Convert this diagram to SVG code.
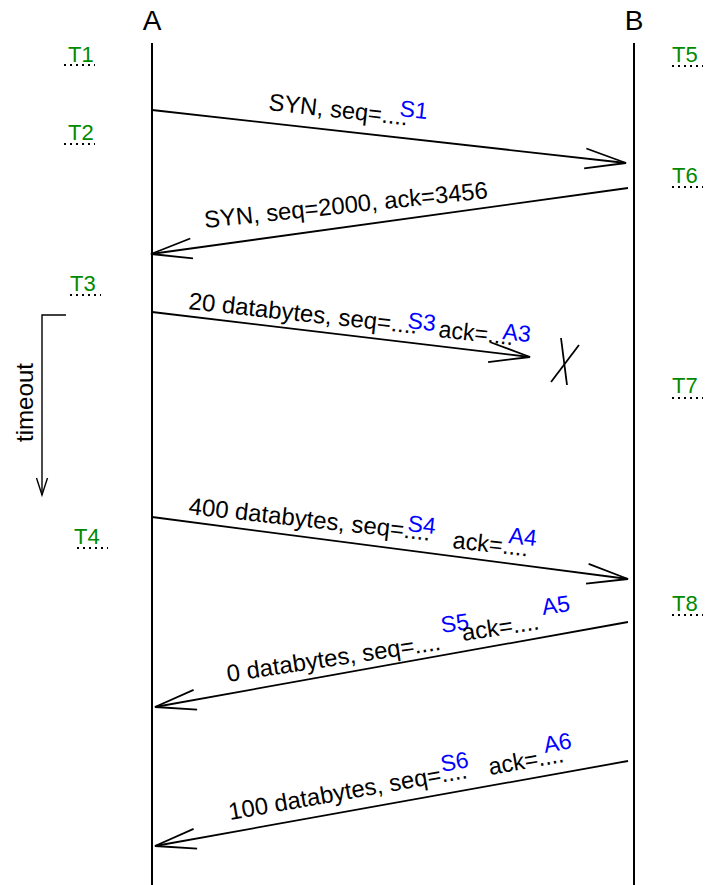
<svg xmlns="http://www.w3.org/2000/svg" width="705" height="885" viewBox="0 0 705 885">
<style>
.life{stroke:#000;stroke-width:2;fill:none}
.msg{stroke:#000;stroke-width:1.8;fill:none}
.lbl{font-family:"Liberation Sans",Arial,sans-serif;font-size:24px;fill:#000}
.var{font-family:"Liberation Sans",Arial,sans-serif;font-size:23px;fill:#0000ff}
.tl{font-family:"Liberation Sans",Arial,sans-serif;font-size:22px;fill:#008a00}
.dots{stroke:#000;stroke-width:2;stroke-dasharray:2 4;fill:none}
.ent{font-family:"Liberation Sans",Arial,sans-serif;font-size:28px;fill:#000;text-anchor:middle}
</style>
<defs>
<marker id="open" viewBox="-45 -15 50 30" markerWidth="50" markerHeight="30" refX="0" refY="0" orient="auto" markerUnits="userSpaceOnUse">
<path d="M-41,-10 L0,0 L-41,10" fill="none" stroke="#000" stroke-width="1.8"/>
</marker>
<marker id="small" viewBox="-20 -8 24 16" markerWidth="24" markerHeight="16" refX="0" refY="0" orient="auto" markerUnits="userSpaceOnUse">
<path d="M-17,-5.5 L0,0 L-17,5.5" fill="none" stroke="#000" stroke-width="1.4"/>
</marker>
</defs>
<rect width="705" height="885" fill="#fff"/>
<g id="A"><text class="ent" x="152" y="30">A</text><line class="life" x1="152" y1="43" x2="152" y2="885"/></g>
<g id="B"><text class="ent" x="634" y="30">B</text><line class="life" x1="634" y1="43" x2="634" y2="885"/></g>
<g id="T1"><text class="tl" x="68" y="62">T1</text><line class="dots" x1="64" y1="65" x2="95" y2="65"/></g>
<g id="T2"><text class="tl" x="68" y="140">T2</text><line class="dots" x1="64" y1="144" x2="95" y2="144"/></g>
<g id="T3"><text class="tl" x="70" y="291">T3</text><line class="dots" x1="70" y1="295" x2="101" y2="295"/></g>
<g id="T4"><text class="tl" x="74" y="544">T4</text><line class="dots" x1="77" y1="548" x2="108" y2="548"/></g>
<g id="T5"><text class="tl" x="672" y="62">T5</text><line class="dots" x1="672" y1="66" x2="703" y2="66"/></g>
<g id="T6"><text class="tl" x="672" y="183">T6</text><line class="dots" x1="672" y1="187" x2="703" y2="187"/></g>
<g id="T7"><text class="tl" x="672" y="393">T7</text><line class="dots" x1="672" y1="398" x2="703" y2="398"/></g>
<g id="T8"><text class="tl" x="672" y="611">T8</text><line class="dots" x1="672" y1="615" x2="703" y2="615"/></g>
<g id="timeout">
<polyline class="msg" points="66,315 42,315 42,495" marker-end="url(#small)" style="stroke-width:1.4"/>
<text class="lbl" x="33" y="442" transform="rotate(-90 33 442)" textLength="79" lengthAdjust="spacingAndGlyphs">timeout</text>
</g>
<g id="connectors">
<line class="msg" x1="152" y1="110" x2="626" y2="163" marker-end="url(#open)"/>
<line class="msg" x1="628" y1="188" x2="151" y2="254" marker-end="url(#open)"/>
<line class="msg" x1="152" y1="312" x2="530" y2="357" marker-end="url(#open)"/>
<line class="msg" x1="152" y1="517" x2="628" y2="579" marker-end="url(#open)"/>
<line class="msg" x1="628" y1="622" x2="155" y2="707" marker-end="url(#open)"/>
<line class="msg" x1="628" y1="761" x2="155" y2="846" marker-end="url(#open)"/>
<line class="msg" x1="561" y1="338" x2="567" y2="385"/>
<line class="msg" x1="551" y1="382" x2="579" y2="345"/>
</g>
<g id="label1">
<text class="lbl" x="268" y="110" transform="rotate(6.3 268 110)" textLength="140" lengthAdjust="spacingAndGlyphs">SYN, seq=....</text>
<text class="var" x="399" y="116" transform="rotate(6.3 399 116)">S1</text>
</g>
<g id="label2">
<text class="lbl" x="205" y="228" transform="rotate(-6 205 228)" textLength="285" lengthAdjust="spacingAndGlyphs">SYN, seq=2000, ack=3456</text>
</g>
<g id="label3">
<text class="lbl" x="188" y="309" transform="rotate(6.2 188 309)" textLength="230" lengthAdjust="spacingAndGlyphs">20 databytes, seq=....</text>
<text class="var" x="407" y="328" transform="rotate(6.2 407 328)">S3</text>
<text class="lbl" x="438" y="337" transform="rotate(6.2 438 337)" textLength="75" lengthAdjust="spacingAndGlyphs">ack=....</text>
<text class="var" x="502" y="339" transform="rotate(6.2 502 339)">A3</text>
</g>
<g id="label4">
<text class="lbl" x="188" y="514" transform="rotate(6.3 188 514)" textLength="243" lengthAdjust="spacingAndGlyphs">400 databytes, seq=....</text>
<text class="var" x="407" y="531" transform="rotate(6.3 407 531)">S4</text>
<text class="lbl" x="452" y="548" transform="rotate(6.3 452 548)" textLength="76" lengthAdjust="spacingAndGlyphs">ack=....</text>
<text class="var" x="508" y="543" transform="rotate(6.3 508 543)">A4</text>
</g>
<g id="label5">
<text class="lbl" x="228" y="682" transform="rotate(-8.6 228 682)" textLength="216" lengthAdjust="spacingAndGlyphs">0 databytes, seq=....</text>
<text class="var" x="442" y="633" transform="rotate(-8.6 442 633)">S5</text>
<text class="lbl" x="463" y="641" transform="rotate(-8.6 463 641)" textLength="78" lengthAdjust="spacingAndGlyphs">ack=....</text>
<text class="var" x="543" y="615" transform="rotate(-8.6 543 615)">A5</text>
</g>
<g id="label6">
<text class="lbl" x="230" y="820" transform="rotate(-10 230 820)" textLength="242" lengthAdjust="spacingAndGlyphs">100 databytes, seq=....</text>
<text class="var" x="442" y="772" transform="rotate(-10 442 772)">S6</text>
<text class="lbl" x="490" y="775" transform="rotate(-10 490 775)" textLength="76" lengthAdjust="spacingAndGlyphs">ack=....</text>
<text class="var" x="545" y="753" transform="rotate(-10 545 753)">A6</text>
</g>
</svg>
